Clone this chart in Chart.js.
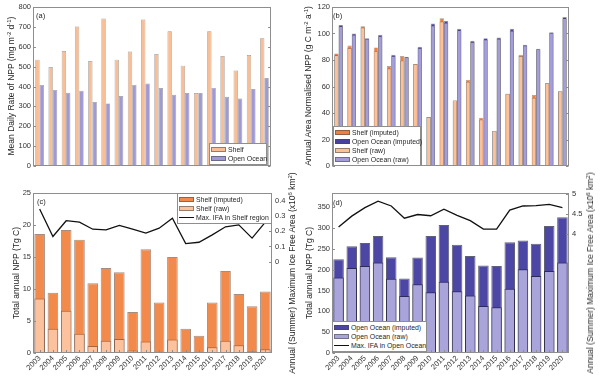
<!DOCTYPE html>
<html>
<head>
<meta charset="utf-8">
<script src="https://cdn.jsdelivr.net/npm/chart.js@4.4.0/dist/chart.umd.min.js"></script>
<style>
  body { margin: 0; background: #fff; }
  #wrap { position: relative; width: 600px; height: 378px; overflow: hidden; background: #fff; font-family: 'Liberation Sans', Arial, sans-serif; color: #262626; }
  canvas { position: absolute; }
  .yt { position: absolute; white-space: nowrap; font-size: 8.5px; transform: translate(-50%, -50%) rotate(-90deg); }
  sup { font-size: 70%; line-height: 0; vertical-align: 0.45em; }
  .tag { position: absolute; font-size: 7.5px; }
  .leg { position: absolute; background: #fff; border: 1px solid #8e8e8e; box-sizing: border-box; padding: 1px 0; font-size: 6.9px; }
  .row { height: 9px; line-height: 9px; display: flex; align-items: center; white-space: nowrap; }
  .sw { width: 15px; height: 5px; margin: 0 2px 0 1px; border: 1px solid rgba(70,70,70,0.55); box-sizing: border-box; flex: none; }
  .ln { width: 15px; height: 0; border-top: 1.3px solid #111; margin: 0 2px 0 1px; flex: none; }
</style>
</head>
<body>
<div id="wrap">
  <canvas id="cA" width="300" height="185" style="left:0;top:0"></canvas>
  <canvas id="cB" width="300" height="185" style="left:300px;top:0"></canvas>
  <canvas id="cC" width="300" height="208" style="left:0;top:170px"></canvas>
  <canvas id="cD" width="300" height="208" style="left:300px;top:170px"></canvas>

  <div class="yt" style="left:11px;top:86px">Mean Daily Rate of NPP (mg m<sup>-2</sup> d<sup>-1</sup>)</div>
  <div class="yt" style="left:308px;top:86px">Annual Area Normalised NPP (g C m<sup>-2</sup> a<sup>-1</sup>)</div>
  <div class="yt" style="left:16px;top:273px">Total annual NPP (Tg C)</div>
  <div class="yt" style="left:292px;top:273px">Annual (Summer) Maximum Ice Free Area (x10<sup>6</sup> km<sup>2</sup>)</div>
  <div class="yt" style="left:309px;top:273px">Total annual NPP (Tg C)</div>
  <div class="yt" style="left:590px;top:273px">Annual (Summer) Maximum Ice Free Area (x10<sup>6</sup> km<sup>2</sup>)</div>

  <div class="tag" style="left:36px;top:11px">(a)</div>
  <div class="tag" style="left:333px;top:11px">(b)</div>
  <div class="tag" style="left:37px;top:197px">(c)</div>
  <div class="tag" style="left:333px;top:198px">(d)</div>

  <div class="leg" style="left:209px;top:143px;width:58px">
    <div class="row"><span class="sw" style="background:#F9BE95"></span>Shelf</div>
    <div class="row"><span class="sw" style="background:#9F99D5"></span>Open Ocean</div>
  </div>
  <div class="leg" style="left:333px;top:126px;width:88px">
    <div class="row"><span class="sw" style="background:#EE7F3F"></span>Shelf (imputed)</div>
    <div class="row"><span class="sw" style="background:#47419F"></span>Open Ocean (imputed)</div>
    <div class="row"><span class="sw" style="background:#FBC19B"></span>Shelf (raw)</div>
    <div class="row"><span class="sw" style="background:#A39ED8"></span>Open Ocean (raw)</div>
  </div>
  <div class="leg" style="left:177px;top:193px;width:95px">
    <div class="row"><span class="sw" style="background:#F28A4B"></span>Shelf (imputed)</div>
    <div class="row"><span class="sw" style="background:#FCC29D"></span>Shelf (raw)</div>
    <div class="row"><span class="ln"></span>Max. IFA in Shelf region</div>
  </div>
  <div class="leg" style="left:332px;top:321px;width:95px">
    <div class="row"><span class="sw" style="background:#4C46A5"></span>Open Ocean (imputed)</div>
    <div class="row"><span class="sw" style="background:#A9A4DA"></span>Open Ocean (raw)</div>
    <div class="row"><span class="ln"></span>Max. IFA in Open Ocean</div>
  </div>
</div>

<script>
const years = ['2003','2004','2005','2006','2007','2008','2009','2010','2011',
               '2012','2013','2014','2015','2016','2017','2018','2019','2020'];

// (a) mean daily rate of NPP, mg m-2 d-1
const shelfDaily = [535,498,578,702,528,742,535,576,737,563,678,505,367,678,553,480,558,643];
const oceanDaily = [408,383,368,378,322,315,352,408,415,392,358,367,367,393,348,340,387,443];

// (b) annual area normalised NPP, g C m-2 a-1
const shelfNormImputed = [85,91,105.5,89.5,75.5,83,77,37,111.5,49.5,65,36.5,26.5,54.5,84,53.5,62.5,56.5];
const shelfNormRaw     = [83.5,89,104.5,86.5,73.5,79.5,77,37,109,49.5,63.5,35,26.5,54.5,83,51.5,62.5,56.5];
const oceanNormImputed = [106.5,100,96.5,99,84,82.5,90,107.5,109.5,103.5,94.5,96.5,97,103.5,91.5,88.5,101,112.5];
const oceanNormRaw     = [105.5,99,96,98,83,82,89,106,108,102.5,93.5,95.5,96,102,91,88,100.5,111.5];

// (c) shelf totals, Tg C, and max ice free area (x10^6 km2)
const shelfTotalImputed = [18.6,9.4,19.2,17.7,10.9,13.3,12.6,6.4,16.2,7.9,15.0,3.8,2.7,7.9,12.8,9.2,7.3,9.6];
const shelfTotalRaw     = [8.5,3.8,6.6,3.0,1.1,1.9,2.2,0.4,1.8,0.2,2.1,0.1,0.05,0.9,1.9,1.2,0.25,0.6];
const shelfIFA = [0.347,0.166,0.270,0.261,0.214,0.210,0.239,0.214,0.188,0.221,0.287,0.119,0.128,0.177,0.230,0.243,0.155,0.261];
const shelfIfaTicks = [0, 0.1, 0.2, 0.3, 0.4];

// (d) open ocean totals, Tg C, and max ice free area (x10^6 km2)
const oceanTotalImputed = [225,256,264,281,230,179,229,281,307,260,233,210,209,266,270,262,305,326];
const oceanTotalRaw     = [181,204,209,217,178,137,165,146,171,148,138,113,110,154,201,185,197,217];
const oceanIFA = [4.18,4.45,4.66,4.82,4.70,4.40,4.49,4.46,4.62,4.47,4.34,4.13,4.13,4.60,4.70,4.71,4.74,4.66];
const oceanIfaTicks = [4, 4.5, 5];

const font = { family: "'Liberation Sans', Arial, sans-serif", size: 7.5 };
const tickColor = '#333';
const edge = 'rgba(70,70,70,0.55)';

function fixWidth(w) { return s => { s.width = w; }; }
function fixHeight(h) { return s => { s.height = h; }; }

// matlab-ish box with inward ticks
const frame = {
  id: 'frame',
  afterDatasetsDraw(chart, args, opts) {
    const { ctx, chartArea: a } = chart;
    const L = Math.round(a.left) + 0.5, R = Math.round(a.right) - 0.5;
    const T = Math.round(a.top) + 0.5, B = Math.round(a.bottom) - 0.5;
    ctx.save();
    ctx.strokeStyle = '#8e8e8e';
    ctx.lineWidth = 1;
    ctx.beginPath();
    for (const id in chart.scales) {
      const s = chart.scales[id];
      if (!s.options.display) continue;
      s.ticks.forEach((t, i) => {
        const p = Math.round(s.getPixelForTick(i)) + 0.5;
        if (s.axis === 'x') {
          ctx.moveTo(p, B); ctx.lineTo(p, B - 2.5);
        } else if (s.position === 'left') {
          ctx.moveTo(L, p); ctx.lineTo(L + 2.5, p);
          if (opts.mirror) { ctx.moveTo(R, p); ctx.lineTo(R - 2.5, p); }
        } else {
          ctx.moveTo(R, p); ctx.lineTo(R - 2.5, p);
        }
      });
    }
    ctx.stroke();
    ctx.strokeRect(L, T, R - L, B - T);
    ctx.restore();
  }
};

function yScale(min, max, step, width) {
  return {
    position: 'left', stacked: false, min, max,
    ticks: { stepSize: step, includeBounds: false, font, color: tickColor, padding: 2 },
    grid: { display: false, drawTicks: false },
    border: { display: false },
    afterFit: fixWidth(width)
  };
}

function rightScale(min, max, tickVals, width) {
  return {
    position: 'right', min, max,
    afterBuildTicks: s => { s.ticks = tickVals.map(v => ({ value: v })); },
    ticks: { font, color: tickColor, padding: 3, callback: v => String(v) },
    grid: { display: false, drawTicks: false },
    border: { display: false },
    afterFit: fixWidth(width)
  };
}

const yearAxis = {
  ticks: { font, color: tickColor, minRotation: 45, maxRotation: 45, autoSkip: false, padding: 1 },
  grid: { display: false, drawTicks: false },
  border: { display: false },
  afterFit: fixHeight(25)
};

const common = {
  responsive: false,
  animation: false,
  events: [],
  plugins: { legend: { display: false }, tooltip: { enabled: false }, frame: {} }
};

// (a)
new Chart(document.getElementById('cA'), {
  type: 'bar',
  data: {
    labels: years,
    datasets: [
      { label: 'Shelf', data: shelfDaily, backgroundColor: '#F9BE95' },
      { label: 'Open Ocean', data: oceanDaily, backgroundColor: '#9F99D5' }
    ].map(d => Object.assign(d, { borderColor: edge, borderWidth: 0.7, categoryPercentage: 0.66, barPercentage: 1 }))
  },
  options: Object.assign({}, common, {
    layout: { padding: { top: 7, right: 29, bottom: 19, left: 0 } },
    plugins: Object.assign({}, common.plugins, { frame: { mirror: true } }),
    scales: { x: { display: false }, y: yScale(0, 800, 100, 33) }
  }),
  plugins: [frame]
});

// (b) imputed bars behind, raw bars on top, shelf/ocean side by side
new Chart(document.getElementById('cB'), {
  type: 'bar',
  data: {
    labels: years,
    datasets: [
      { label: 'Shelf (imputed)', data: shelfNormImputed, stack: 'shelf', order: 2, backgroundColor: '#EE7F3F' },
      { label: 'Open Ocean (imputed)', data: oceanNormImputed, stack: 'ocean', order: 2, backgroundColor: '#47419F' },
      { label: 'Shelf (raw)', data: shelfNormRaw, stack: 'shelf', order: 1, backgroundColor: '#FBC19B' },
      { label: 'Open Ocean (raw)', data: oceanNormRaw, stack: 'ocean', order: 1, backgroundColor: '#A39ED8' }
    ].map(d => Object.assign(d, { borderColor: edge, borderWidth: 0.7, categoryPercentage: 0.66, barPercentage: 1 }))
  },
  options: Object.assign({}, common, {
    layout: { padding: { top: 7, right: 31, bottom: 19, left: 0 } },
    plugins: Object.assign({}, common.plugins, { frame: { mirror: true } }),
    scales: { x: { display: false }, y: yScale(0, 120, 20, 32) }
  }),
  plugins: [frame]
});

// (c)
new Chart(document.getElementById('cC'), {
  type: 'bar',
  data: {
    labels: years,
    datasets: [
      { type: 'line', label: 'Max. IFA in Shelf region', data: shelfIFA, yAxisID: 'y1', order: 0,
        borderColor: '#111', borderWidth: 1.3, pointRadius: 0, tension: 0 },
      { label: 'Shelf (imputed)', data: shelfTotalImputed, stack: 's', order: 2, backgroundColor: '#F28A4B',
        borderColor: 'rgba(120,80,60,0.65)', borderWidth: 1, categoryPercentage: 1, barPercentage: 0.8 },
      { label: 'Shelf (raw)', data: shelfTotalRaw, stack: 's', order: 1, backgroundColor: '#FCC29D',
        borderColor: 'rgba(120,80,60,0.65)', borderWidth: 1, categoryPercentage: 1, barPercentage: 0.8 }
    ]
  },
  options: Object.assign({}, common, {
    layout: { padding: { top: 23, right: 0, bottom: 0, left: 0 } },
    scales: {
      x: yearAxis,
      y: yScale(0, 25, 5, 33),
      y1: rightScale(-0.603, 0.453, shelfIfaTicks, 28)
    }
  }),
  plugins: [frame]
});

// (d)
new Chart(document.getElementById('cD'), {
  type: 'bar',
  data: {
    labels: years,
    datasets: [
      { type: 'line', label: 'Max. IFA in Open Ocean', data: oceanIFA, yAxisID: 'y1', order: 0,
        borderColor: '#111', borderWidth: 1.3, pointRadius: 0, tension: 0 },
      { label: 'Open Ocean (imputed)', data: oceanTotalImputed, stack: 'o', order: 2, backgroundColor: '#4C46A5',
        borderColor: 'rgba(30,30,60,0.7)', borderWidth: 1, categoryPercentage: 1, barPercentage: 0.8 },
      { label: 'Open Ocean (raw)', data: oceanTotalRaw, stack: 'o', order: 1, backgroundColor: '#A9A4DA',
        borderColor: 'rgba(30,30,60,0.7)', borderWidth: 1, categoryPercentage: 1, barPercentage: 0.8 }
    ]
  },
  options: Object.assign({}, common, {
    layout: { padding: { top: 23, right: 0, bottom: 0, left: 0 } },
    scales: {
      x: yearAxis,
      y: yScale(0, 384, 50, 32),
      y1: rightScale(1.08, 5.02, oceanIfaTicks, 31)
    }
  }),
  plugins: [frame]
});
</script>
</body>
</html>
